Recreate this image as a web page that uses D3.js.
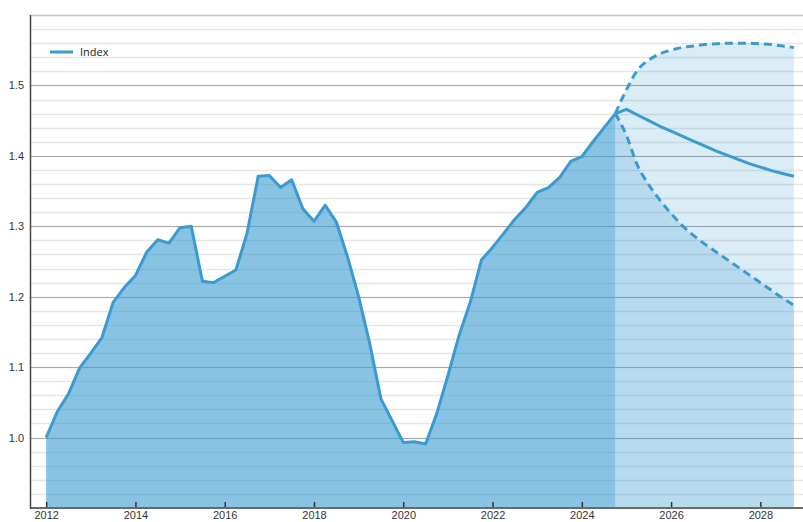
<!DOCTYPE html>
<html>
<head>
<meta charset="utf-8">
<script src="https://cdn.jsdelivr.net/npm/d3@7/dist/d3.min.js"></script>
<style>
  html, body { margin: 0; padding: 0; background: #fff; }
  svg { display: block; font-family: "Open Sans", "Noto Sans", sans-serif; }
</style>
</head>
<body>
<svg id="chart" width="803" height="522"></svg>
<script>
// ---- Data ----
const histStart = 2012.0;
const histValues = [
  1.000, 1.037, 1.062, 1.099, 1.120, 1.142, 1.192, 1.213,
  1.230, 1.263, 1.281, 1.276, 1.298, 1.300, 1.222, 1.220,
  1.229, 1.238, 1.290, 1.371, 1.372, 1.355, 1.366, 1.325,
  1.307, 1.330, 1.306, 1.257, 1.200, 1.133, 1.055, 1.024,
  0.993, 0.994, 0.991, 1.034, 1.088, 1.145, 1.192, 1.252,
  1.270, 1.290, 1.310, 1.327, 1.348, 1.355, 1.369, 1.392,
  1.399, 1.420, 1.440, 1.460
];
const fcStart = 2024.75;
const fcCentral = [
  1.460, 1.466, 1.458, 1.450, 1.442, 1.435, 1.428, 1.421, 1.414,
  1.407, 1.401, 1.395, 1.389, 1.384, 1.379, 1.375, 1.371
];
const fcUpper = [
  1.460, 1.494, 1.522, 1.536, 1.545, 1.550, 1.554, 1.556, 1.558,
  1.559, 1.560, 1.560, 1.560, 1.559, 1.558, 1.556, 1.554
];
const fcLower = [
  1.460, 1.429, 1.386, 1.359, 1.337, 1.318, 1.301, 1.287, 1.275,
  1.264, 1.253, 1.242, 1.231, 1.220, 1.209, 1.198, 1.188
];
const xTicks = [2012, 2014, 2016, 2018, 2020, 2022, 2024, 2026, 2028];
const yTicks = [1.0, 1.1, 1.2, 1.3, 1.4, 1.5];
const yMinorTicks = d3.range(0.9, 1.6001, 0.02);
const legendLabel = "Index";

(function () {
// ---- Layout ----
const svg = d3.select("#chart");
const mLeft = 31, mRight = 805, mTop = 15, mBottom = 508;
const x = d3.scaleLinear().domain([2011.66, 2029]).range([mLeft, mRight]);
const y = d3.scaleLinear().domain([0.9, 1.6]).range([mBottom, mTop]);
const color = "#3a9bd0";

const hist = histValues.map((v, i) => ({ t: histStart + i * 0.25, v }));
const fc = fcCentral.map((v, i) => ({ t: fcStart + i * 0.25, v, hi: fcUpper[i], lo: fcLower[i] }));

// gridlines
const grid = svg.append("g");
grid.selectAll("line.minor").data(yMinorTicks).enter().append("line")
  .attr("x1", mLeft).attr("x2", 803)
  .attr("y1", d => Math.round(y(d)) + 0.5).attr("y2", d => Math.round(y(d)) + 0.5)
  .attr("stroke", "#e6e6e6").attr("stroke-width", 1.5);
grid.selectAll("line.major").data(yTicks).enter().append("line")
  .attr("x1", mLeft).attr("x2", 803)
  .attr("y1", d => Math.round(y(d)) + 0.5).attr("y2", d => Math.round(y(d)) + 0.5)
  .attr("stroke", "#a8a8a8").attr("stroke-width", 1);
// top line
svg.append("line").attr("x1", mLeft).attr("x2", 803)
  .attr("y1", y(1.6) + 0.5).attr("y2", y(1.6) + 0.5)
  .attr("stroke", "#c8c8c8").attr("stroke-width", 1.5);

// forecast areas
const areaUpper = d3.area().x(d => x(d.t)).y0(y(0.9)).y1(d => y(d.hi)).curve(d3.curveMonotoneX);
const areaLower = d3.area().x(d => x(d.t)).y0(y(0.9)).y1(d => y(d.lo)).curve(d3.curveMonotoneX);
svg.append("path").datum(fc).attr("d", areaUpper).attr("fill", color).attr("fill-opacity", 0.19);
svg.append("path").datum(fc).attr("d", areaLower).attr("fill", color).attr("fill-opacity", 0.22);

// historical area
const areaHist = d3.area().x(d => x(d.t)).y0(y(0.9)).y1(d => y(d.v));
svg.append("path").datum(hist).attr("d", areaHist).attr("fill", color).attr("fill-opacity", 0.6);

// lines
const line = d3.line().x(d => x(d.t)).y(d => y(d.v));
svg.append("path").datum(hist).attr("d", line)
  .attr("fill", "none").attr("stroke", color).attr("stroke-width", 3).attr("stroke-linejoin", "round");
svg.append("path").datum(fc).attr("d", line)
  .attr("fill", "none").attr("stroke", color).attr("stroke-width", 3).attr("stroke-linejoin", "round");
const lineHi = d3.line().x(d => x(d.t)).y(d => y(d.hi)).curve(d3.curveMonotoneX);
const lineLo = d3.line().x(d => x(d.t)).y(d => y(d.lo)).curve(d3.curveMonotoneX);
svg.append("path").datum(fc).attr("d", lineHi)
  .attr("fill", "none").attr("stroke", color).attr("stroke-width", 3).attr("stroke-dasharray", "8,5");
svg.append("path").datum(fc).attr("d", lineLo)
  .attr("fill", "none").attr("stroke", color).attr("stroke-width", 3).attr("stroke-dasharray", "8,5");

// x axis
const xAxis = d3.axisBottom(x).tickValues(xTicks).tickFormat(d3.format("d")).tickSizeInner(-6).tickSizeOuter(0).tickPadding(3);
const gx = svg.append("g").attr("transform", `translate(0,${mBottom})`).call(xAxis);
gx.select(".domain").remove();
gx.selectAll(".tick line").attr("stroke", "#333").attr("stroke-width", 1.5);
gx.selectAll(".tick text").attr("fill", "#333").style("font-size", "11px");
svg.append("line").attr("x1", mLeft - 1).attr("x2", 803).attr("y1", mBottom).attr("y2", mBottom)
  .attr("stroke", "#6a6a6a").attr("stroke-width", 2);

// y axis
const yAxis = d3.axisLeft(y).tickValues(yTicks).tickFormat(d3.format(".1f")).tickSize(0).tickPadding(6);
const gy = svg.append("g").attr("transform", `translate(${mLeft - 1},0)`).call(yAxis);
gy.select(".domain").remove();
gy.selectAll(".tick text").attr("fill", "#333").style("font-size", "11px");
svg.append("line").attr("x1", mLeft - 0.5).attr("x2", mLeft - 0.5).attr("y1", mTop).attr("y2", mBottom + 1)
  .attr("stroke", "#444").attr("stroke-width", 1.5);

// legend
const lg = svg.append("g").attr("transform", "translate(50,52)");
lg.append("line").attr("x1", 0).attr("x2", 23).attr("y1", 0).attr("y2", 0)
  .attr("stroke", color).attr("stroke-width", 3);
lg.append("text").attr("x", 30).attr("y", 4).text(legendLabel)
  .attr("fill", "#222").style("font-size", "11px");
})();
</script>
</body>
</html>
